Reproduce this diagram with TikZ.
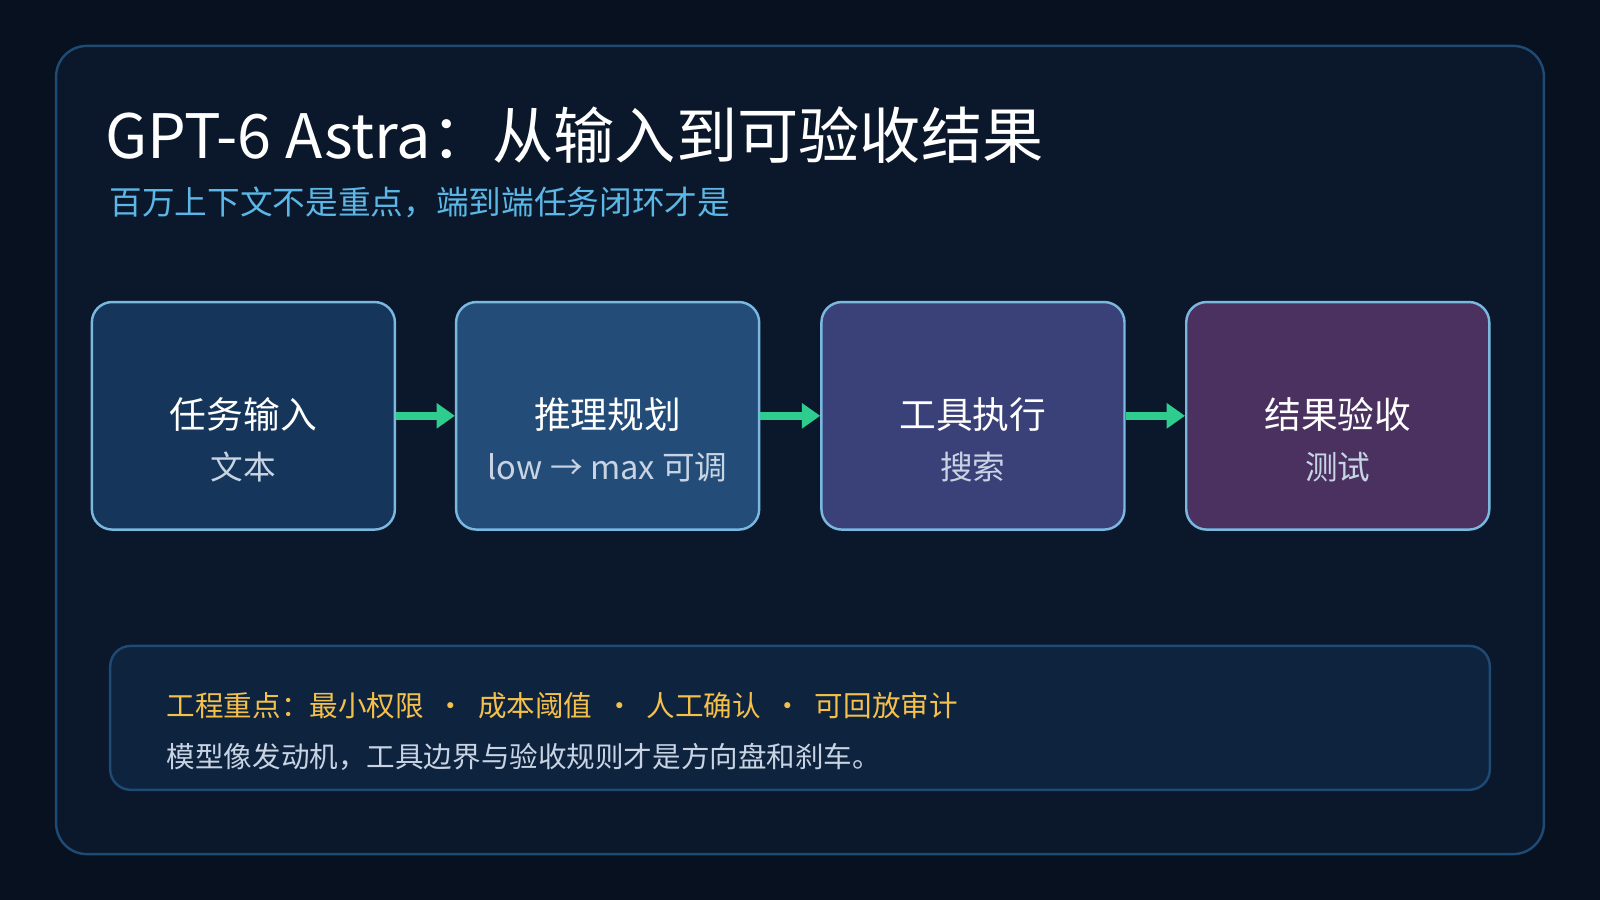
\documentclass[tikz,border=0pt]{standalone}
\usepackage{fontspec}
\setmainfont{Noto Sans CJK SC}
\usetikzlibrary{arrows.meta}
\definecolor{bg}{HTML}{08111F}
\definecolor{panel}{HTML}{0B182B}
\definecolor{pborder}{HTML}{1E4A73}
\definecolor{bA}{HTML}{15355A}
\definecolor{bB}{HTML}{234D78}
\definecolor{bC}{HTML}{3A4078}
\definecolor{bD}{HTML}{4A3160}
\definecolor{bline}{HTML}{7AB8E0}
\definecolor{grn}{HTML}{2ECC8F}
\definecolor{sub}{HTML}{5BB8E6}
\definecolor{gray1}{HTML}{C8D4E4}
\definecolor{yel}{HTML}{F5C04A}
\definecolor{note}{HTML}{0E233D}
\begin{document}
\begin{tikzpicture}[x=0.5pt,y=-0.5pt,
 stagebox/.style={draw=bline,line width=1.2pt,rounded corners=10pt,minimum width=148.5pt,minimum height=111.5pt,inner sep=0pt},
 ttl/.style={text=white,font=\fontsize{18}{22}\selectfont},
 sb/.style={text=gray1,font=\fontsize{16}{20}\selectfont},
 arr/.style={draw=grn,line width=4pt,-{Triangle[length=9pt,width=12pt]}}]
\fill[bg] (0,0) rectangle (1568,882);
\useasboundingbox (0,0) rectangle (1568,882);
\draw[pborder,fill=panel,line width=1.2pt,rounded corners=15pt] (55,45) rectangle (1513,837);
\node[anchor=base west,text=white,font=\fontsize{30}{36}\selectfont,inner sep=0] (t) at (103,155) {GPT-6 Astra：从输入到可验收结果};
\node[anchor=base west,text=sub,font=\fontsize{16}{20}\selectfont,inner sep=0] (s) at (107,210) {百万上下文不是重点，端到端任务闭环才是};
\node[stagebox,fill=bA] (a) at (238.5,407.5) {};
\node[stagebox,fill=bB] (b) at (595.5,407.5) {};
\node[stagebox,fill=bC] (c) at (953.5,407.5) {};
\node[stagebox,fill=bD] (d) at (1311,407.5) {};
\foreach \n/\t/\s in {a/任务输入/文本 / 图片 / 文件, b/推理规划/low → max 可调, c/工具执行/搜索 / 代码 / 桌面, d/结果验收/测试 / 审批 / 审计}{
 \node[ttl,anchor=base] at ([yshift=-6pt]\n.center) {\t};
 \node[sb,anchor=base] at ([yshift=-31pt]\n.center) {\s};
}
\draw[arr] (a.east) -- (b.west);
\draw[arr] (b.east) -- (c.west);
\draw[arr] (c.east) -- (d.west);
\draw[pborder,fill=note,line width=1.2pt,rounded corners=10pt] (108,633) rectangle (1460,774);
\node[anchor=base west,text=yel,font=\fontsize{14}{18}\selectfont,inner sep=0] (n1) at (163,702) {工程重点：最小权限 \ · \ 成本阈值 \ · \ 人工确认 \ · \ 可回放审计};
\node[anchor=base west,text=gray1,font=\fontsize{14}{18}\selectfont,inner sep=0] (n2) at (163,752) {模型像发动机，工具边界与验收规则才是方向盘和刹车。};
\end{tikzpicture}
\end{document}
